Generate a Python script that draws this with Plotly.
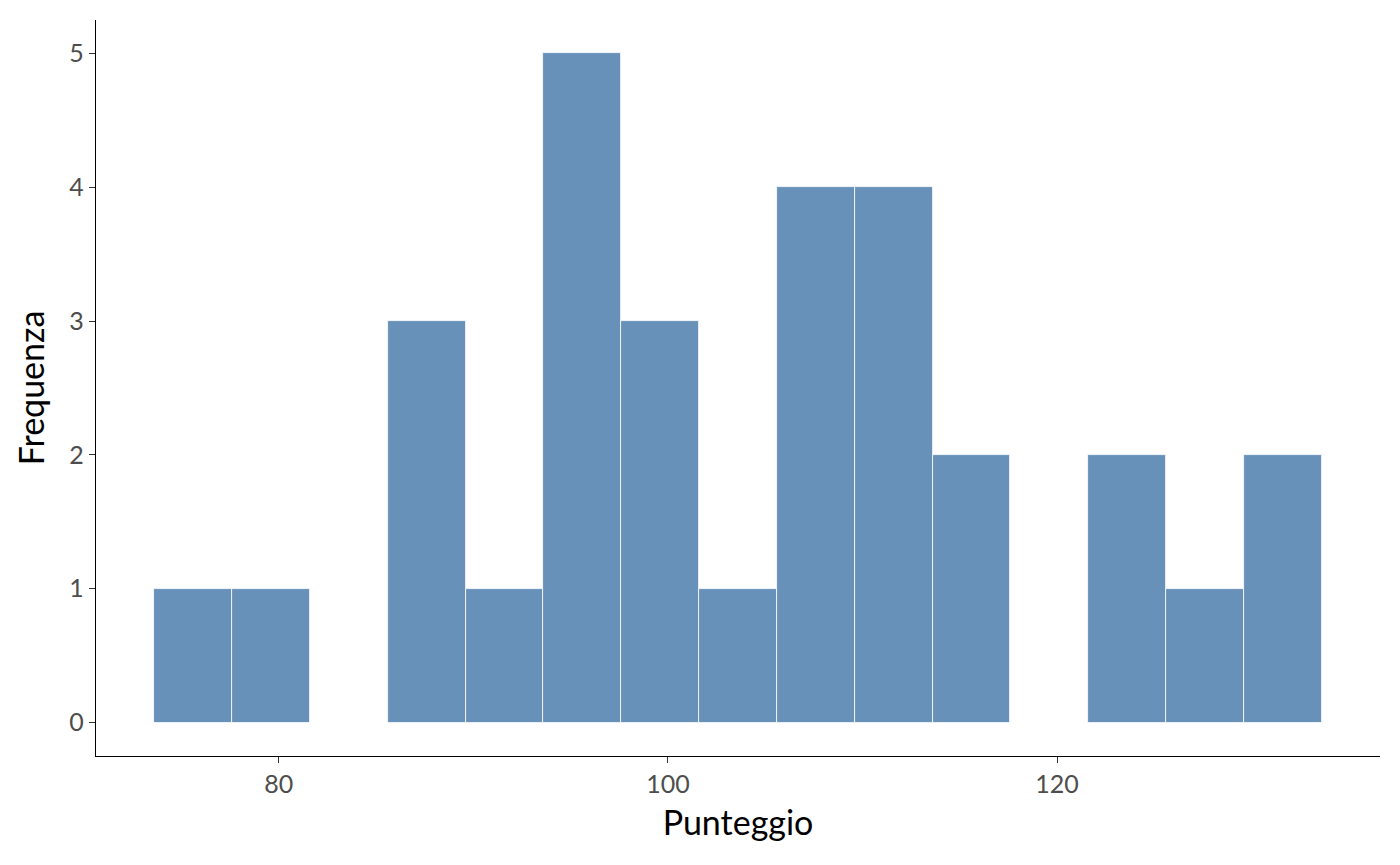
import plotly.graph_objects as go

# Histogram bins (width 4) and counts
bin_starts = [73.6, 77.6, 81.6, 85.6, 89.6, 93.6, 97.6, 101.6, 105.6, 109.6, 113.6, 117.6, 121.6, 125.6, 129.6]
counts = [1, 1, 0, 3, 1, 5, 3, 1, 4, 4, 2, 0, 2, 1, 2]
bin_width = 4
x_ticks = [80, 100, 120]
y_ticks = [0, 1, 2, 3, 4, 5]

centers = [s + bin_width / 2 for s in bin_starts]

fig = go.Figure(go.Bar(
    x=centers, y=counts, width=bin_width,
    marker=dict(color="#6891BA", line=dict(color="white", width=0.8)),
))

font_family = "Lato, 'Noto Sans', sans-serif"
fig.update_layout(
    template="none",
    width=1400, height=865,
    margin=dict(l=88, r=28, t=12, b=117),
    plot_bgcolor="white", paper_bgcolor="white",
    showlegend=False, bargap=0,
    font=dict(family=font_family),
)
fig.update_xaxes(
    range=[70.6, 136.6], tickvals=x_ticks, automargin=False,
    showgrid=False, zeroline=False,
    showline=True, linecolor="black", linewidth=1.3,
    ticks="outside", ticklen=6, tickwidth=1.2, tickcolor="#333333",
    tickfont=dict(size=25, color="#4d4d4d", family=font_family),
    title=dict(text="Punteggio", font=dict(size=34, color="black", family=font_family), standoff=14),
)
fig.update_yaxes(
    range=[-0.25, 5.25], tickvals=y_ticks, automargin=False,
    showgrid=False, zeroline=False,
    showline=True, linecolor="black", linewidth=1.3,
    ticks="outside", ticklen=6, tickwidth=1.2, tickcolor="#333333",
    tickfont=dict(size=25, color="#4d4d4d", family=font_family),
    title=dict(text="Frequenza", font=dict(size=34, color="black", family=font_family), standoff=14),
)

fig.write_html("out.html")
